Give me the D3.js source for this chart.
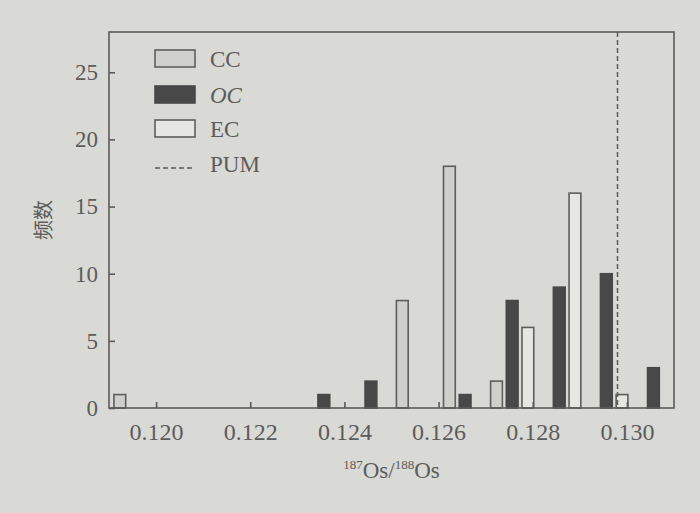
<!DOCTYPE html>
<html>
<head>
<meta charset="utf-8">
<script src="https://cdn.jsdelivr.net/npm/d3@7"></script>
<style>
  html, body { margin: 0; padding: 0; background: #d9d9d5; }
  svg { display: block; }
</style>
</head>
<body>
<svg id="chart" width="700" height="513"></svg>
<script>
// ---- data ----
const bins = [0.119, 0.120, 0.121, 0.122, 0.123, 0.124, 0.125, 0.126, 0.127, 0.128, 0.129, 0.130];
const seriesNames = ["CC", "OC", "EC"];
const ccValues = [1, 0, 0, 0, 0, 0, 8, 18, 2, 0, 0, 0];
const ocValues = [0, 0, 0, 0, 1, 2, 0, 1, 8, 9, 10, 3];
const ecValues = [0, 0, 0, 0, 0, 0, 0, 0, 6, 16, 1, 0];
const xTicks = [0.120, 0.122, 0.124, 0.126, 0.128, 0.130];
const yTicks = [0, 5, 10, 15, 20, 25];
const pumValue = 0.1298;
const xDomain = [0.119, 0.131];
const yDomain = [0, 28];
const binWidth = 0.001;
const binOffset = 0.000063;

const values = { CC: ccValues, OC: ocValues, EC: ecValues };
const fills = { CC: "#cfcfcb", OC: "#484848", EC: "#e6e6e2" };

const svg = d3.select("#chart");
const W = 700, H = 513;
const margin = { left: 109, right: 700 - 674, top: 32, bottom: 513 - 408 };
const iw = W - margin.left - margin.right;
const ih = H - margin.top - margin.bottom;

svg.append("rect").attr("width", W).attr("height", H).attr("fill", "#d9d9d5");

const g = svg.append("g").attr("transform", `translate(${margin.left},${margin.top})`);

const x = d3.scaleLinear().domain(xDomain).range([0, iw]);
const y = d3.scaleLinear().domain(yDomain).range([ih, 0]);
const inner = d3.scaleBand().domain(seriesNames)
  .range([0, x(xDomain[0] + binWidth) - x(xDomain[0])])
  .paddingInner(0.25).paddingOuter(0.125);

const axisColor = "#5a5a5a";
const textColor = "#5c5c5c";
const serif = "'Liberation Serif', 'DejaVu Serif', serif";

// bars
const barData = [];
bins.forEach((b, i) => {
  seriesNames.forEach(s => {
    const v = values[s][i];
    if (v > 0) barData.push({ bin: b, series: s, value: v });
  });
});

g.selectAll("rect.bar").data(barData).enter().append("rect")
  .attr("class", "bar")
  .attr("x", d => x(d.bin + binOffset) + inner(d.series))
  .attr("width", inner.bandwidth())
  .attr("y", d => y(d.value))
  .attr("height", d => y(0) - y(d.value))
  .attr("fill", d => fills[d.series])
  .attr("stroke", d => d.series === "OC" ? "#484848" : "#5e5e5e")
  .attr("stroke-width", 1.6);

// PUM dashed line
g.append("line")
  .attr("x1", x(pumValue)).attr("x2", x(pumValue))
  .attr("y1", 0).attr("y2", ih)
  .attr("stroke", "#5e5e5e").attr("stroke-width", 1.5)
  .attr("stroke-dasharray", "5,3");

// frame
g.append("rect").attr("x", 0).attr("y", 0).attr("width", iw).attr("height", ih)
  .attr("fill", "none").attr("stroke", axisColor).attr("stroke-width", 1.6);

// axes (inward ticks)
const xAxis = d3.axisBottom(x).tickValues(xTicks).tickFormat(d3.format(".3f"))
  .tickSizeInner(-6).tickSizeOuter(0).tickPadding(15);
const gx = g.append("g").attr("transform", `translate(0,${ih})`).call(xAxis);
gx.select(".domain").remove();
gx.selectAll(".tick line").attr("stroke", axisColor).attr("stroke-width", 1.6);
gx.selectAll(".tick text")
  .attr("fill", textColor)
  .style("font-family", serif)
  .style("font-size", "24px");

const yAxis = d3.axisLeft(y).tickValues(yTicks)
  .tickSizeInner(-6).tickSizeOuter(0).tickPadding(11);
const gy = g.append("g").call(yAxis);
gy.select(".domain").remove();
gy.selectAll(".tick line").attr("stroke", axisColor).attr("stroke-width", 1.6);
gy.selectAll(".tick text")
  .attr("fill", textColor)
  .style("font-family", serif)
  .style("font-size", "23px");

// axis titles
const xt = svg.append("text")
  .attr("x", margin.left + iw / 2).attr("y", 478)
  .attr("text-anchor", "middle")
  .attr("fill", textColor)
  .style("font-family", serif)
  .style("font-size", "23px");
xt.append("tspan").attr("dy", -9).style("font-size", "13px").text("187");
xt.append("tspan").attr("dy", 9).text("Os/");
xt.append("tspan").attr("dy", -9).style("font-size", "13px").text("188");
xt.append("tspan").attr("dy", 9).text("Os");

svg.append("text")
  .attr("transform", "translate(51,220) rotate(-90)")
  .attr("text-anchor", "middle")
  .attr("fill", textColor)
  .style("font-family", "'Noto Sans CJK SC', sans-serif")
  .style("font-size", "20px")
  .text("频数");

// legend
const legend = svg.append("g").attr("transform", "translate(155,50)");
const legendItems = seriesNames.concat(["PUM"]);
const rowY = [0, 36, 70, 105];
legendItems.forEach((name, i) => {
  const row = legend.append("g").attr("transform", `translate(0,${rowY[i]})`);
  if (name === "PUM") {
    row.append("line").attr("x1", 0).attr("x2", 40).attr("y1", 13).attr("y2", 13)
      .attr("stroke", "#5e5e5e").attr("stroke-width", 1.5).attr("stroke-dasharray", "5,3");
  } else {
    row.append("rect").attr("x", 0).attr("y", 0).attr("width", 40).attr("height", 17)
      .attr("fill", fills[name])
      .attr("stroke", name === "OC" ? "#484848" : "#5e5e5e").attr("stroke-width", 1.6);
  }
  row.append("text").attr("x", 55).attr("y", 9).attr("dy", "0.35em")
    .attr("fill", textColor)
    .style("font-family", serif)
    .style("font-size", "23px")
    .style("font-style", name === "OC" ? "italic" : "normal")
    .text(name);
});
</script>
</body>
</html>
